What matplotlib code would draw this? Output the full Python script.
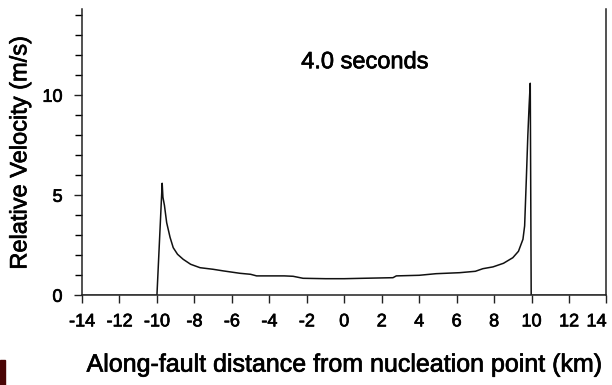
import numpy as np
import matplotlib
matplotlib.use('Agg')
import matplotlib.pyplot as plt
import matplotlib.patheffects as pe
from matplotlib.patches import Rectangle

plt.rcParams['font.family'] = ['Liberation Sans', 'DejaVu Sans']

# slip velocity profile at t = 4.0 s
dist = [-14, -10.0, -9.72, -9.68, -9.6, -9.48, -9.3, -9.13, -8.9, -8.6, -8.2,
        -7.7, -7.0, -6.46, -5.57, -5.0, -4.68, -4.0, -3.2, -2.73, -2.2, -1.0,
        0.0, 1.0, 2.6, 2.78, 4.0, 4.9, 6.16, 7.0, 7.4, 7.94, 8.5, 9.0, 9.3,
        9.54, 9.63, 9.72, 9.8, 9.87, 9.93, 9.98, 10.0, 14]
vel = [0, 0, 5.6, 4.9, 4.5, 3.63, 2.9, 2.38, 2.05, 1.8, 1.55,
       1.38, 1.3, 1.22, 1.1, 1.05, 0.97, 0.97, 0.97, 0.95, 0.85, 0.83,
       0.83, 0.85, 0.88, 0.97, 1.0, 1.08, 1.13, 1.2, 1.33, 1.42, 1.6, 1.88, 2.2,
       2.8, 3.47, 5.8, 7.97, 9.5, 10.6, 0, 0, 0]

xticks = np.arange(-14, 15, 2)
yticks = [0, 5, 10]
yminor = np.arange(0, 15, 1)

# slightly heavier text, like the scanned original
heavy = [pe.withStroke(linewidth=0.5, foreground='black')]

fig = plt.figure(figsize=(6.12, 3.85), dpi=100)
ax = fig.add_axes([0.134, 0.233, 0.857, 0.743])

ax.plot(dist, vel, color='#111111', linewidth=1.1)

ax.set_xlim(-14, 14)
ax.set_ylim(0, 14.3)
ax.set_xticks(xticks)
ax.set_xticklabels([str(t) for t in xticks])
ax.get_xticklabels()[-1].set_horizontalalignment('right')
ax.set_yticks(yticks)
ax.set_yticks(yminor, minor=True)
ax.tick_params(axis='both', direction='out', length=6, width=1, labelsize=13,
               color='#222222')
ax.tick_params(axis='x', pad=7)
ax.tick_params(axis='y', pad=8)
ax.tick_params(axis='y', which='minor', direction='out', length=5, width=1)
ax.spines['top'].set_visible(False)
for s in ['left', 'right', 'bottom']:
    ax.spines[s].set_linewidth(1.1)
    ax.spines[s].set_color('#222222')
for lab in ax.get_xticklabels() + ax.get_yticklabels():
    lab.set_path_effects(heavy)

ax.set_xlabel('Along-fault distance from nucleation point (km)', fontsize=18,
              labelpad=16, path_effects=heavy)
ax.set_ylabel('Relative Velocity (m/s)', fontsize=17, labelpad=8,
              path_effects=heavy)
ax.text(1.1, 11.65, '4.0 seconds', fontsize=17, ha='center', va='center',
        path_effects=heavy)

fig.patches.append(Rectangle((0, 0), 5 / 612, 25 / 385, transform=fig.transFigure,
                             color='#4a0505', zorder=5))

fig.savefig('out.png', dpi=100)
